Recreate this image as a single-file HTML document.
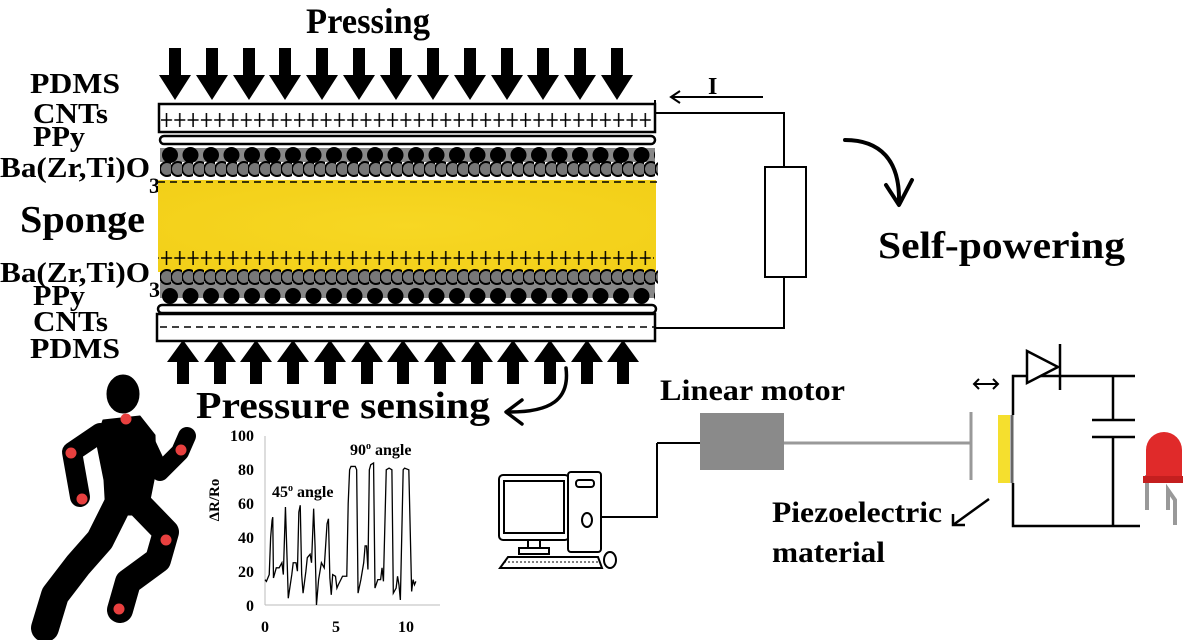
<!DOCTYPE html>
<html><head><meta charset="utf-8"><style>
html,body{margin:0;padding:0;background:#fff;width:1200px;height:640px;overflow:hidden}
text{font-family:"Liberation Serif",serif;font-weight:bold;fill:#000}
</style></head><body>
<svg width="1200" height="640" viewBox="0 0 1200 640" xmlns="http://www.w3.org/2000/svg">
<defs>
<path id="da" d="M-6,48 H6 V75 H16 L0,100 L-16,75 H-6 Z" fill="#000"/>
<path id="ua" d="M0,340 L16,362 H6 V384 H-6 V362 H-16 Z" fill="#000"/>
<pattern id="bc1" x="160" y="145" width="20.5" height="20" patternUnits="userSpaceOnUse">
<circle cx="10" cy="10" r="8" fill="#000"/></pattern>
<pattern id="bc2" x="160" y="286" width="20.5" height="20" patternUnits="userSpaceOnUse">
<circle cx="10" cy="10" r="8" fill="#000"/></pattern>
<pattern id="gc1" x="160" y="159" width="11" height="20" patternUnits="userSpaceOnUse">
<circle cx="7" cy="10" r="7" fill="#777" stroke="#000" stroke-width="2"/></pattern>
<pattern id="gc2" x="160" y="267" width="11" height="20" patternUnits="userSpaceOnUse">
<circle cx="7" cy="10" r="7" fill="#777" stroke="#000" stroke-width="2"/></pattern>
<pattern id="pl1" x="160" y="110" width="13.3" height="20" patternUnits="userSpaceOnUse">
<path d="M6.5,3 V17 M1,10 H12" stroke="#000" stroke-width="1.5"/></pattern>
<pattern id="pl2" x="160" y="248" width="13.3" height="20" patternUnits="userSpaceOnUse">
<path d="M6.5,3 V17 M1,10 H12" stroke="#000" stroke-width="1.5"/></pattern>
<radialGradient id="sp" cx="50%" cy="50%" r="70%">
<stop offset="0" stop-color="#f7d723"/><stop offset="1" stop-color="#f2cf18"/></radialGradient>
</defs>

<text x="306" y="33" font-size="36" textLength="124" lengthAdjust="spacingAndGlyphs">Pressing</text>
<g>
<use href="#da" x="175"/><use href="#da" x="212"/><use href="#da" x="249"/><use href="#da" x="285"/><use href="#da" x="322"/><use href="#da" x="359"/><use href="#da" x="396"/><use href="#da" x="433"/><use href="#da" x="470"/><use href="#da" x="507"/><use href="#da" x="543"/><use href="#da" x="580"/><use href="#da" x="617"/>
</g>

<!-- left labels -->
<text x="30" y="93" font-size="28" textLength="90" lengthAdjust="spacingAndGlyphs">PDMS</text>
<text x="33" y="123" font-size="28" textLength="75" lengthAdjust="spacingAndGlyphs">CNTs</text>
<text x="33" y="146" font-size="28" textLength="52" lengthAdjust="spacingAndGlyphs">PPy</text>
<text x="0" y="177" font-size="28" textLength="150" lengthAdjust="spacingAndGlyphs">Ba(Zr,Ti)O</text>
<text x="149" y="193" font-size="22">3</text>
<text x="20" y="232" font-size="38" textLength="125" lengthAdjust="spacingAndGlyphs">Sponge</text>
<text x="0" y="282" font-size="28" textLength="150" lengthAdjust="spacingAndGlyphs">Ba(Zr,Ti)O</text>
<text x="149" y="297" font-size="22">3</text>
<text x="33" y="305" font-size="28" textLength="52" lengthAdjust="spacingAndGlyphs">PPy</text>
<text x="33" y="331" font-size="28" textLength="75" lengthAdjust="spacingAndGlyphs">CNTs</text>
<text x="30" y="358" font-size="28" textLength="90" lengthAdjust="spacingAndGlyphs">PDMS</text>

<!-- top electrode -->
<rect x="159" y="104" width="496" height="28" fill="#fff" stroke="#000" stroke-width="2.5"/>
<line x1="655" y1="100" x2="655" y2="132" stroke="#000" stroke-width="2"/>
<rect x="161" y="110" width="492" height="20" fill="url(#pl1)"/>
<rect x="160" y="136" width="495" height="8" rx="4" fill="#fff" stroke="#000" stroke-width="2.5"/>
<rect x="160" y="148" width="495" height="14" fill="#888"/>
<rect x="160" y="145" width="495" height="20" fill="url(#bc1)"/>
<rect x="160" y="159" width="498" height="20" fill="url(#gc1)"/>
<!-- sponge -->
<rect x="158" y="180" width="498" height="92" fill="url(#sp)"/>
<line x1="158" y1="182" x2="658" y2="182" stroke="#000" stroke-width="1.5" stroke-dasharray="7,5"/>
<rect x="158" y="248" width="496" height="20" fill="url(#pl2)"/>
<!-- bottom -->
<rect x="160" y="282" width="495" height="16" fill="#888"/>
<rect x="160" y="267" width="498" height="20" fill="url(#gc2)"/>
<rect x="160" y="286" width="495" height="20" fill="url(#bc2)"/>
<rect x="158" y="305" width="498" height="8" rx="4" fill="#fff" stroke="#000" stroke-width="2.5"/>
<rect x="157" y="314" width="498" height="27" fill="#fff" stroke="#000" stroke-width="2.5"/>
<line x1="160" y1="327" x2="655" y2="327" stroke="#000" stroke-width="1.5" stroke-dasharray="7,5"/>

<g>
<use href="#ua" x="183"/><use href="#ua" x="220"/><use href="#ua" x="256"/><use href="#ua" x="293"/><use href="#ua" x="330"/><use href="#ua" x="367"/><use href="#ua" x="403"/><use href="#ua" x="440"/><use href="#ua" x="477"/><use href="#ua" x="513"/><use href="#ua" x="550"/><use href="#ua" x="587"/><use href="#ua" x="623"/>
</g>

<!-- circuit top right -->
<polyline points="655,113 784,113 784,167" fill="none" stroke="#000" stroke-width="2"/>
<rect x="765" y="167" width="41" height="110" fill="#fff" stroke="#000" stroke-width="2"/>
<polyline points="784,277 784,328 655,328" fill="none" stroke="#000" stroke-width="2"/>
<path d="M763,97 H672 M680,91 L671,97 L680,103" fill="none" stroke="#000" stroke-width="2"/>
<text x="708" y="94" font-size="24">I</text>
<path d="M845,140 C880,140 900,160 899,202" fill="none" stroke="#000" stroke-width="4" stroke-linecap="round"/>
<path d="M886,185 L899,205 L912,180" fill="none" stroke="#000" stroke-width="4" stroke-linecap="round" stroke-linejoin="round"/>
<text x="878" y="258" font-size="38" textLength="247" lengthAdjust="spacingAndGlyphs">Self-powering</text>

<text x="196" y="418" font-size="38" textLength="294" lengthAdjust="spacingAndGlyphs">Pressure sensing</text>
<path d="M566,368 C570,400 550,412 510,412" fill="none" stroke="#000" stroke-width="3.5" stroke-linecap="round"/>
<path d="M522,400 L506,412 L522,424" fill="none" stroke="#000" stroke-width="3.5" stroke-linecap="round" stroke-linejoin="round"/>

<!-- runner -->
<g fill="#000" stroke="#000" stroke-linecap="round" stroke-linejoin="round">
<ellipse cx="123" cy="394" rx="16" ry="19"/>
<path d="M103,420 L140,416 L155,435 L156,470 L150,500 L152,515 L106,515 L104,480 L96,440 Z"/>
<path d="M100,433 L72,452 L80,497" fill="none" stroke-width="20"/>
<path d="M145,440 L160,472 L180,452 L187,436" fill="none" stroke-width="18"/>
<path d="M120,500 L100,540 L78,565 L55,595 L45,628" fill="none" stroke-width="28"/>
<path d="M135,500 L166,532 L158,560 L128,582 L120,610" fill="none" stroke-width="26"/>
</g>
<g fill="#e8403f">
<circle cx="126" cy="419" r="5.5"/><circle cx="71" cy="453" r="5.5"/><circle cx="82" cy="499" r="5.5"/>
<circle cx="181" cy="450" r="5.5"/><circle cx="166" cy="540" r="5.5"/><circle cx="119" cy="609" r="5.5"/>
</g>

<!-- chart -->
<g stroke="#bbb" stroke-width="1" fill="none">
<line x1="265" y1="436" x2="265" y2="605"/><line x1="265" y1="605" x2="440" y2="605"/>
</g>
<g text-anchor="end">
<text x="254" y="441" font-size="16">100</text><text x="254" y="475" font-size="16">80</text>
<text x="254" y="509" font-size="16">60</text><text x="254" y="543" font-size="16">40</text>
<text x="254" y="577" font-size="16">20</text><text x="254" y="611" font-size="16">0</text>
</g>
<g text-anchor="middle">
<text x="265" y="632" font-size="16">0</text><text x="336" y="632" font-size="16">5</text><text x="406" y="632" font-size="16">10</text>
</g>
<text transform="translate(219,500) rotate(-90)" font-size="15" text-anchor="middle">ΔR/Ro</text>
<text x="272" y="497" font-size="16">45<tspan font-size="10" dy="-6">o</tspan><tspan dy="6"> angle</tspan></text>
<text x="350" y="455" font-size="16">90<tspan font-size="10" dy="-6">o</tspan><tspan dy="6"> angle</tspan></text>
<g transform="translate(265,605) scale(14.1,-1.69)">
<polyline vector-effect="non-scaling-stroke" fill="none" stroke="#000" stroke-width="1.3" points="0,15 0.1,14 0.3,18 0.4,40 0.5,50 0.55,52 0.6,16 0.8,22 1,22 1.2,25 1.3,18 1.45,58 1.6,18 1.65,4 1.9,18 2,25 2.2,25 2.3,20 2.4,55 2.5,59 2.6,18 2.7,7 2.9,20 3,28 3.2,30 3.3,25 3.45,57 3.55,35 3.65,0 3.8,15 4,25 4.2,22 4.4,48 4.5,51 4.6,16 4.7,6 4.8,18 5,17 5.1,10 5.2,12 5.5,17 5.8,17 5.9,60 6,80 6.1,82 6.4,82 6.5,80 6.6,7 6.8,15 7,25 7.1,35 7.2,35 7.3,21 7.4,80 7.5,83 7.7,84 7.8,10 8,15 8.2,15 8.3,22 8.4,14 8.6,80 8.8,81 9,80 9.1,7 9.3,10 9.4,17 9.5,12 9.6,3 9.8,80 9.9,81 10.2,80 10.4,8 10.5,15 10.6,12 10.7,14"/>
</g>

<!-- linear motor setup -->
<text x="660" y="400" font-size="30" textLength="185" lengthAdjust="spacingAndGlyphs">Linear motor</text>
<rect x="700" y="413" width="84" height="57" fill="#8a8a8a"/>
<line x1="784" y1="443" x2="971" y2="443" stroke="#999" stroke-width="3"/>
<line x1="971" y1="412" x2="971" y2="480" stroke="#999" stroke-width="3"/>
<rect x="998" y="415" width="12" height="68" fill="#f5df2e"/>
<line x1="1012" y1="415" x2="1012" y2="483" stroke="#666" stroke-width="3"/>
<polyline points="657,443 700,443" stroke="#000" stroke-width="2" fill="none"/>
<polyline points="657,443 657,517 600,517" stroke="#000" stroke-width="2" fill="none"/>
<!-- computer -->
<g fill="#fff" stroke="#000" stroke-width="2">
<rect x="499" y="475" width="70" height="65" rx="4"/>
<rect x="504" y="481" width="60" height="52"/>
<rect x="528" y="540" width="12" height="8"/>
<rect x="519" y="548" width="30" height="6"/>
<rect x="568" y="472" width="33" height="80" rx="3"/>
<rect x="576" y="480" width="18" height="7" rx="3"/>
<ellipse cx="587" cy="520" rx="5" ry="7"/>
<path d="M508,557 H598 L602,568 H500 Z"/>
<ellipse cx="610" cy="560" rx="6" ry="8"/>
</g>
<line x1="504" y1="562" x2="598" y2="562" stroke="#000" stroke-width="1" stroke-dasharray="2,2"/>
<!-- circuit -->
<g stroke="#000" stroke-width="2.5" fill="none">
<polyline points="1013,415 1013,376 1135,376"/>
<polyline points="1013,483 1013,526 1140,526"/>
<path d="M1027,351 L1058,367 L1027,383 Z" fill="#fff"/>
<line x1="1060" y1="344" x2="1060" y2="390"/>
<line x1="1113" y1="376" x2="1113" y2="420"/>
<line x1="1092" y1="420" x2="1135" y2="420"/>
<line x1="1092" y1="437" x2="1135" y2="437"/>
<line x1="1113" y1="437" x2="1113" y2="526"/>
</g>
<path d="M974,384 H998 M979,379 L974,384 L979,389 M993,379 L998,384 L993,389" stroke="#000" stroke-width="2" fill="none"/>
<!-- LED -->
<path d="M1147,510 V475 M1168,510 V490 L1175,500 V525" stroke="#999" stroke-width="4" fill="none"/>
<path d="M1146,478 V450 A18,18 0 0 1 1182,450 V478 Z" fill="#e02a2a"/>
<rect x="1143" y="476" width="40" height="7" fill="#c41f1f"/>
<text x="772" y="522" font-size="30" textLength="170" lengthAdjust="spacingAndGlyphs">Piezoelectric</text>
<text x="772" y="562" font-size="30" textLength="113" lengthAdjust="spacingAndGlyphs">material</text>
<path d="M989,499 L953,525 M953,514 L953,525 L965,525" stroke="#000" stroke-width="2.5" fill="none"/>
</svg>
</body></html>
